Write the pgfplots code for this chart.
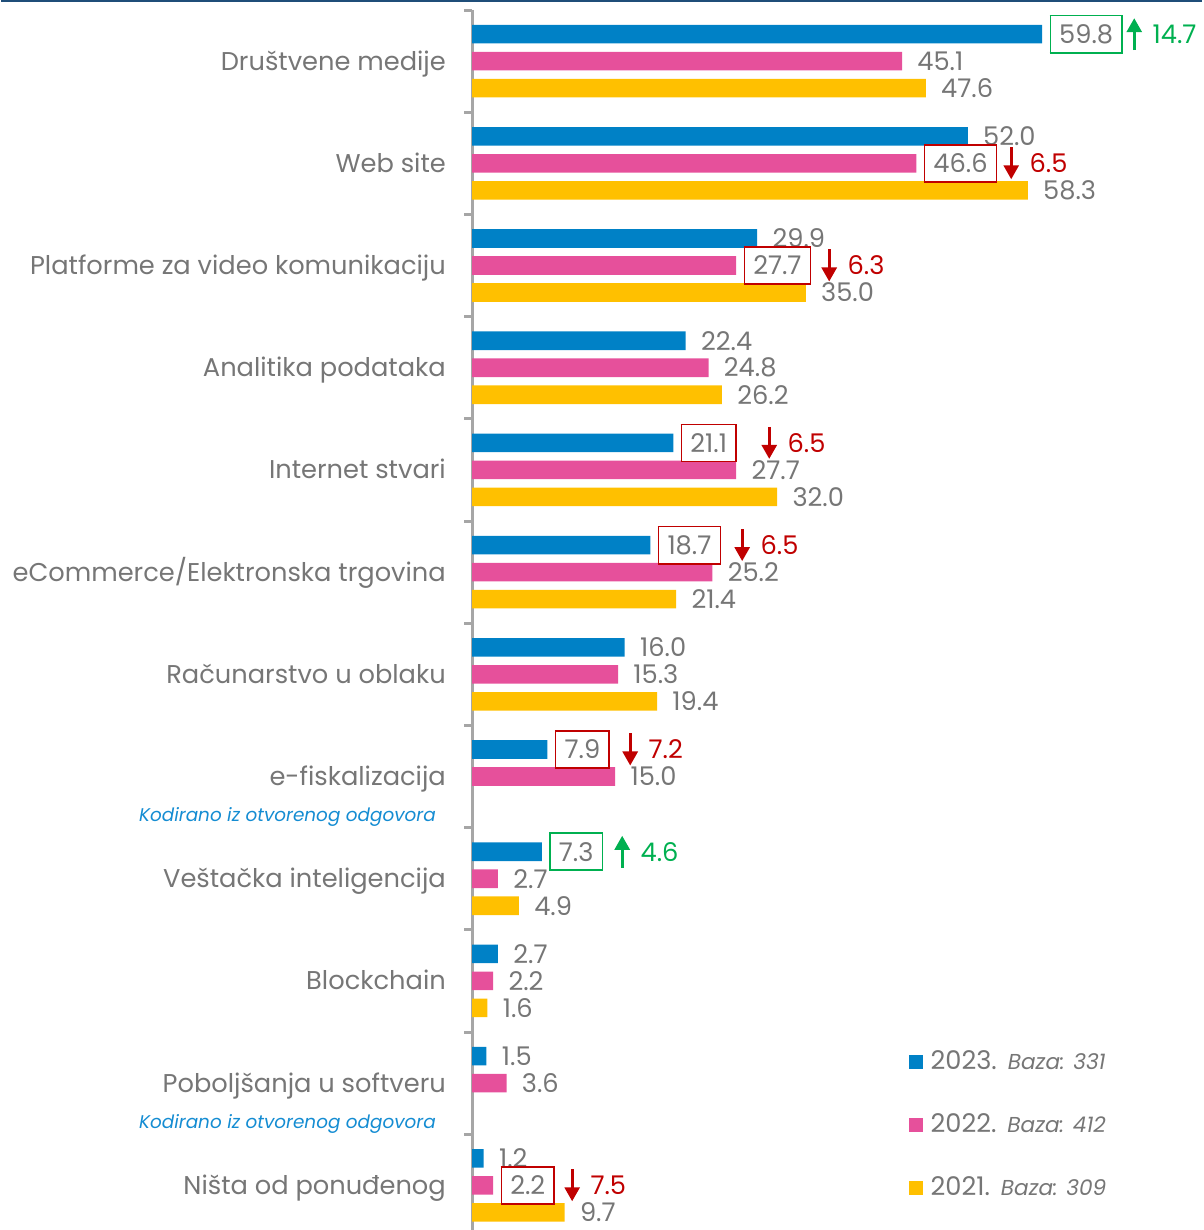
\documentclass[border=0pt]{standalone}
\usepackage{fontspec}
\setmainfont{Poppins}
\usepackage{pgfplots}
\pgfplotsset{compat=1.18}
\usetikzlibrary{arrows.meta}
\definecolor{c23}{RGB}{0,129,198}
\definecolor{c22}{RGB}{230,80,155}
\definecolor{c21}{RGB}{255,192,0}
\definecolor{txt}{RGB}{118,118,118}
\definecolor{upg}{RGB}{0,176,80}
\definecolor{dnr}{RGB}{192,0,0}
\definecolor{subb}{RGB}{20,140,210}
\definecolor{topline}{RGB}{31,78,121}
\definecolor{axg}{RGB}{166,166,166}
\setlength{\fboxsep}{4.1pt}
\setlength{\fboxrule}{0.75pt}
\newcommand\lblfont{\fontsize{12.85}{14}\selectfont}
\newcommand\subl{\fontsize{9.2}{11}\selectfont\itshape\color{subb}}
\NewDocumentCommand\gbx{m}{\hspace*{-4pt}\fcolorbox{upg}{white}{#1}}
\NewDocumentCommand\rbx{m}{\hspace*{-4pt}\fcolorbox{dnr}{white}{#1}}
\begin{document}
\begin{tikzpicture}
\begin{axis}[
  at={(0,0)}, anchor=north west,
  x=4.765pt, y=51.1pt, y dir=reverse,
  xmin=0, xmax=76.6, ymin=-0.5, ymax=11.44,
  axis y line*=left, axis x line=none,
  y axis line style={axg, line width=1.5pt},
  clip=false,
  xtick=\empty,
  ytick={0,...,11},
  yticklabels={
    {Društvene medije},
    {Web site},
    {Platforme za video komunikaciju},
    {Analitika podataka},
    {Internet stvari},
    {eCommerce/Elektronska trgovina},
    {Računarstvo u oblaku},
    {e-fiskalizacija\makebox[0pt][r]{\raisebox{-18pt}[0pt][0pt]{\subl Kodirano iz otvorenog odgovora\hspace{5pt}}}},
    {Veštačka inteligencija},
    {Blockchain},
    {Poboljšanja u softveru\makebox[0pt][r]{\raisebox{-18pt}[0pt][0pt]{\subl Kodirano iz otvorenog odgovora\hspace{5pt}}}},
    {Ništa od ponuđenog}},
  major tick length=0pt,
  minor ytick={-0.5,0.5,...,10.5},
  minor tick length=4pt,
  tick align=outside,
  minor tick style={axg, line width=1.5pt},
  yticklabel style={font=\lblfont, text=txt, anchor=base east, inner sep=0pt, xshift=-13pt, yshift=-4.5pt},
  xbar, bar width=9.3pt,
  point meta=explicit symbolic,
  every node near coord/.append style={font=\lblfont, text=txt, anchor=west, inner sep=0pt, xshift=7.5pt},
  legend image code/.code={\fill[#1] (0pt,-3.5pt) rectangle (7pt,3.5pt);},
  legend style={at={(axis cs:45.75,9.68)}, anchor=north west, draw=none, fill=none, inner sep=0pt,
    row sep=20.5pt, font=\lblfont, text=txt, cells={anchor=west},
    nodes={inner sep=0pt}, /tikz/every odd column/.append style={column sep=4pt}},
]
\addplot[fill=c23, draw=none, bar shift=13.5pt, nodes near coords] coordinates {
 (59.8,0) [\gbx{59.8}] (52.0,1) [52.0] (29.9,2) [29.9] (22.4,3) [22.4]
 (21.1,4) [\rbx{21.1}] (18.7,5) [\rbx{18.7}] (16.0,6) [16.0]
 (7.9,7) [\rbx{7.9}] (7.3,8) [\gbx{7.3}] (2.7,9) [2.7] (1.5,10) [1.5] (1.2,11) [1.2]};
\addlegendentry{2023.\hspace{5.5pt}{\fontsize{10.8}{12}\selectfont\itshape Baza: 331}}
\addplot[fill=c22, draw=none, bar shift=0pt, nodes near coords] coordinates {
 (45.1,0) [45.1] (46.6,1) [\rbx{46.6}] (27.7,2) [\rbx{27.7}] (24.8,3) [24.8]
 (27.7,4) [27.7] (25.2,5) [25.2] (15.3,6) [15.3] (15.0,7) [15.0] (2.7,8) [2.7]
 (2.2,9) [2.2] (3.6,10) [3.6] (2.2,11) [\rbx{2.2}]};
\addlegendentry{2022.\hspace{5.5pt}{\fontsize{10.8}{12}\selectfont\itshape Baza: 412}}
\addplot[fill=c21, draw=none, bar shift=-13.5pt, nodes near coords] coordinates {
 (47.6,0) [47.6] (58.3,1) [58.3] (35.0,2) [35.0] (26.2,3) [26.2] (32.0,4) [32.0]
 (21.4,5) [21.4] (19.4,6) [19.4] (4.9,8) [4.9] (1.6,9) [1.6] (9.7,11) [9.7]};
\addlegendentry{2021.\hspace{5.5pt}{\fontsize{10.8}{12}\selectfont\itshape Baza: 309}}
% change arrows (up = green, down = red)
\addplot[forget plot, upg, line width=1.4pt, -{Triangle[width=7.5pt,length=7pt]},
  quiver={u=0, v=-0.313}]
  coordinates {(69.47,-0.107) (15.74,7.893)};
\addplot[forget plot, dnr, line width=1.4pt, -{Triangle[width=7.5pt,length=7pt]},
  quiver={u=0, v=0.313}]
  coordinates {(56.56,0.843) (37.46,1.843) (31.17,3.579)
   (28.33,4.579) (16.58,6.579) (10.49,10.843)};
% change values, placed after the arrows
\addplot[forget plot, draw=none, fill=none, bar shift=0pt, nodes near coords,
  every node near coord/.append style={text=upg, xshift=1.5pt}]
  coordinates {(69.47,-0.264) [14.7] (15.74,7.736) [4.6]};
\addplot[forget plot, draw=none, fill=none, bar shift=0pt, nodes near coords,
  every node near coord/.append style={text=dnr, xshift=1.5pt}]
  coordinates {(56.56,1) [6.5] (37.46,2) [6.3] (31.17,3.736) [6.5]
   (28.33,4.736) [6.5] (16.58,6.736) [7.2] (10.49,11) [7.5]};
\end{axis}
\pgfresetboundingbox
\path (-235.5pt,5pt) rectangle (365pt,-610pt);
\draw[topline, line width=1.2pt] (-235.5pt,4.4pt) -- (365pt,4.4pt);
\end{tikzpicture}
\end{document}
